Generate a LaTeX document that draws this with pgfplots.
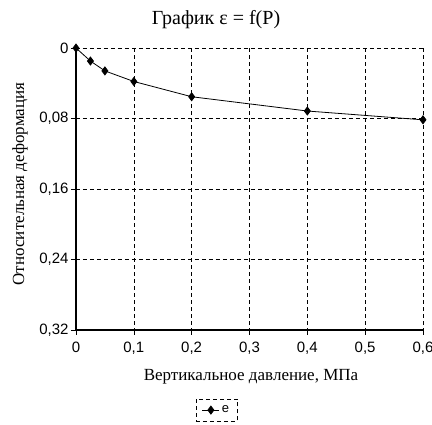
\documentclass[border=0pt]{standalone}
\usepackage{fontspec}
\setmainfont{Liberation Serif}
\newfontfamily\sans{Liberation Sans}
\usepackage{pgfplots}
\pgfplotsset{compat=1.18}
\begin{document}
\begin{tikzpicture}
\useasboundingbox (-76pt,-95pt) rectangle (356pt,330pt);
\begin{axis}[
  scale only axis, width=347pt, height=282pt,
  at={(0,0)}, anchor=south west,
  xmin=0, xmax=0.6, ymin=0, ymax=0.32,
  y dir=reverse,
  axis lines=left,
  axis line style={-, line width=1.4pt},
  xtick={0,0.1,0.2,0.3,0.4,0.5,0.6},
  ytick={0,0.08,0.16,0.24,0.32},
  tick align=outside, tick pos=left,
  major tick length=5pt,
  tick style={black, thin},
  grid=major,
  grid style={black, dash pattern=on 4pt off 3pt, thin},
  /pgf/number format/assume math mode=true,
  xticklabel style={font=\sans\fontsize{15}{17}\selectfont, yshift=-3pt},
  yticklabel style={font=\sans\fontsize{15}{17}\selectfont, xshift=1pt},
  yticklabels={0,{0,08},{0,16},{0,24},{0,32}},
  xticklabels={0,{0,1},{0,2},{0,3},{0,4},{0,5},{0,6}},
  legend style={at={(0.405,-0.284)}, anchor=center, draw=black, dash pattern=on 4pt off 3pt, nodes={font=\sans\fontsize{13}{15}\selectfont}, inner xsep=6pt, inner ysep=5pt, legend cell align=left, /tikz/every even column/.append style={column sep=4pt}},
  legend image post style={solid},
  legend image code/.code={\draw[mark repeat=2,mark phase=2] plot coordinates {(0cm,0cm) (0.3cm,0cm) (0.6cm,0cm)};},
  clip=false,
]
\addplot[black, line width=0.8pt, mark=diamond*, mark size=4pt, mark options={solid, fill=black}] coordinates {
  (0,0) (0.025,0.0148) (0.05,0.026) (0.1,0.038) (0.2,0.0553) (0.4,0.0715) (0.6,0.0815)
};
\addlegendentry{e}
\end{axis}
\node[font=\fontsize{20}{24}\selectfont, anchor=base] at (140pt,305pt) {График ε = f(P)};
\node[font=\fontsize{17}{20}\selectfont, anchor=center] at (175pt,-47pt) {Вертикальное давление, МПа};
\node[font=\fontsize{17}{20}\selectfont, anchor=center, rotate=90] at (-56pt,146pt) {Относительная деформация};
\end{tikzpicture}
\end{document}
